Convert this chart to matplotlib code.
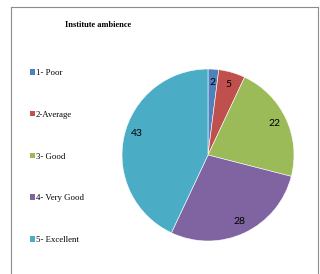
import matplotlib
matplotlib.use("Agg")
import matplotlib.pyplot as plt
from matplotlib.lines import Line2D
from matplotlib.patches import Patch

# data
categories = ["1- Poor", "2-Average", "3- Good", "4- Very Good", "5- Excellent"]
values = [2, 5, 22, 28, 43]
colors = ["#4F81BD", "#C0504D", "#9BBB59", "#8064A2", "#4BACC6"]
title = "Institute ambience"

W, H = 320, 274
fig = plt.figure(figsize=(W / 100, H / 100), dpi=100)

# grey chart-area frame (no bottom edge visible in the reference)
frame = dict(color="#8c8c8c", linewidth=0.8, transform=fig.transFigure)
fig.add_artist(Line2D([10.5 / W, 10.5 / W], [0, 1 - 7 / H], **frame))
fig.add_artist(Line2D([10.5 / W, 318 / W], [1 - 7 / H, 1 - 7 / H], **frame))
fig.add_artist(Line2D([318 / W, 318 / W], [0, 1 - 7 / H], **frame))

# pie, centre (208,155) radius 86 px
cx, cy, r = 208, 155, 86
ax = fig.add_axes([(cx - r) / W, (H - cy - r) / H, 2 * r / W, 2 * r / H])
wedges, texts = ax.pie(values, colors=colors, startangle=90, counterclock=False,
                       radius=1.0, labels=[str(v) for v in values], labeldistance=0.85,
                       wedgeprops=dict(edgecolor="white", linewidth=0.4))
for t in texts:
    t.set_fontsize(7.5)
    t.set_family("Lato")
    t.set_color("#000000")
    t.set_ha("center")
    t.set_va("center")
# Excel nudges the big slice label a bit higher
x43, y43 = texts[-1].get_position()
texts[-1].set_position((x43, y43 + 0.06))
ax.set_xlim(-1, 1)
ax.set_ylim(-1, 1)
ax.set_aspect("equal")
ax.axis("off")

fig.text(98 / W, 1 - 25 / H, title, ha="center", va="center", fontsize=6,
         fontweight="bold", family="Liberation Serif")

handles = [Patch(facecolor=c, edgecolor="none") for c in colors]
fig.legend(handles, categories, loc="upper left", bbox_to_anchor=(29.5 / W, 1 - 69 / H),
           frameon=False, borderpad=0, borderaxespad=0,
           prop={"family": "Liberation Serif", "size": 6.3},
           handlelength=0.6, handleheight=0.6, handletextpad=0.15, labelspacing=3.86)

fig.savefig("out.png", dpi=100, facecolor="white")
